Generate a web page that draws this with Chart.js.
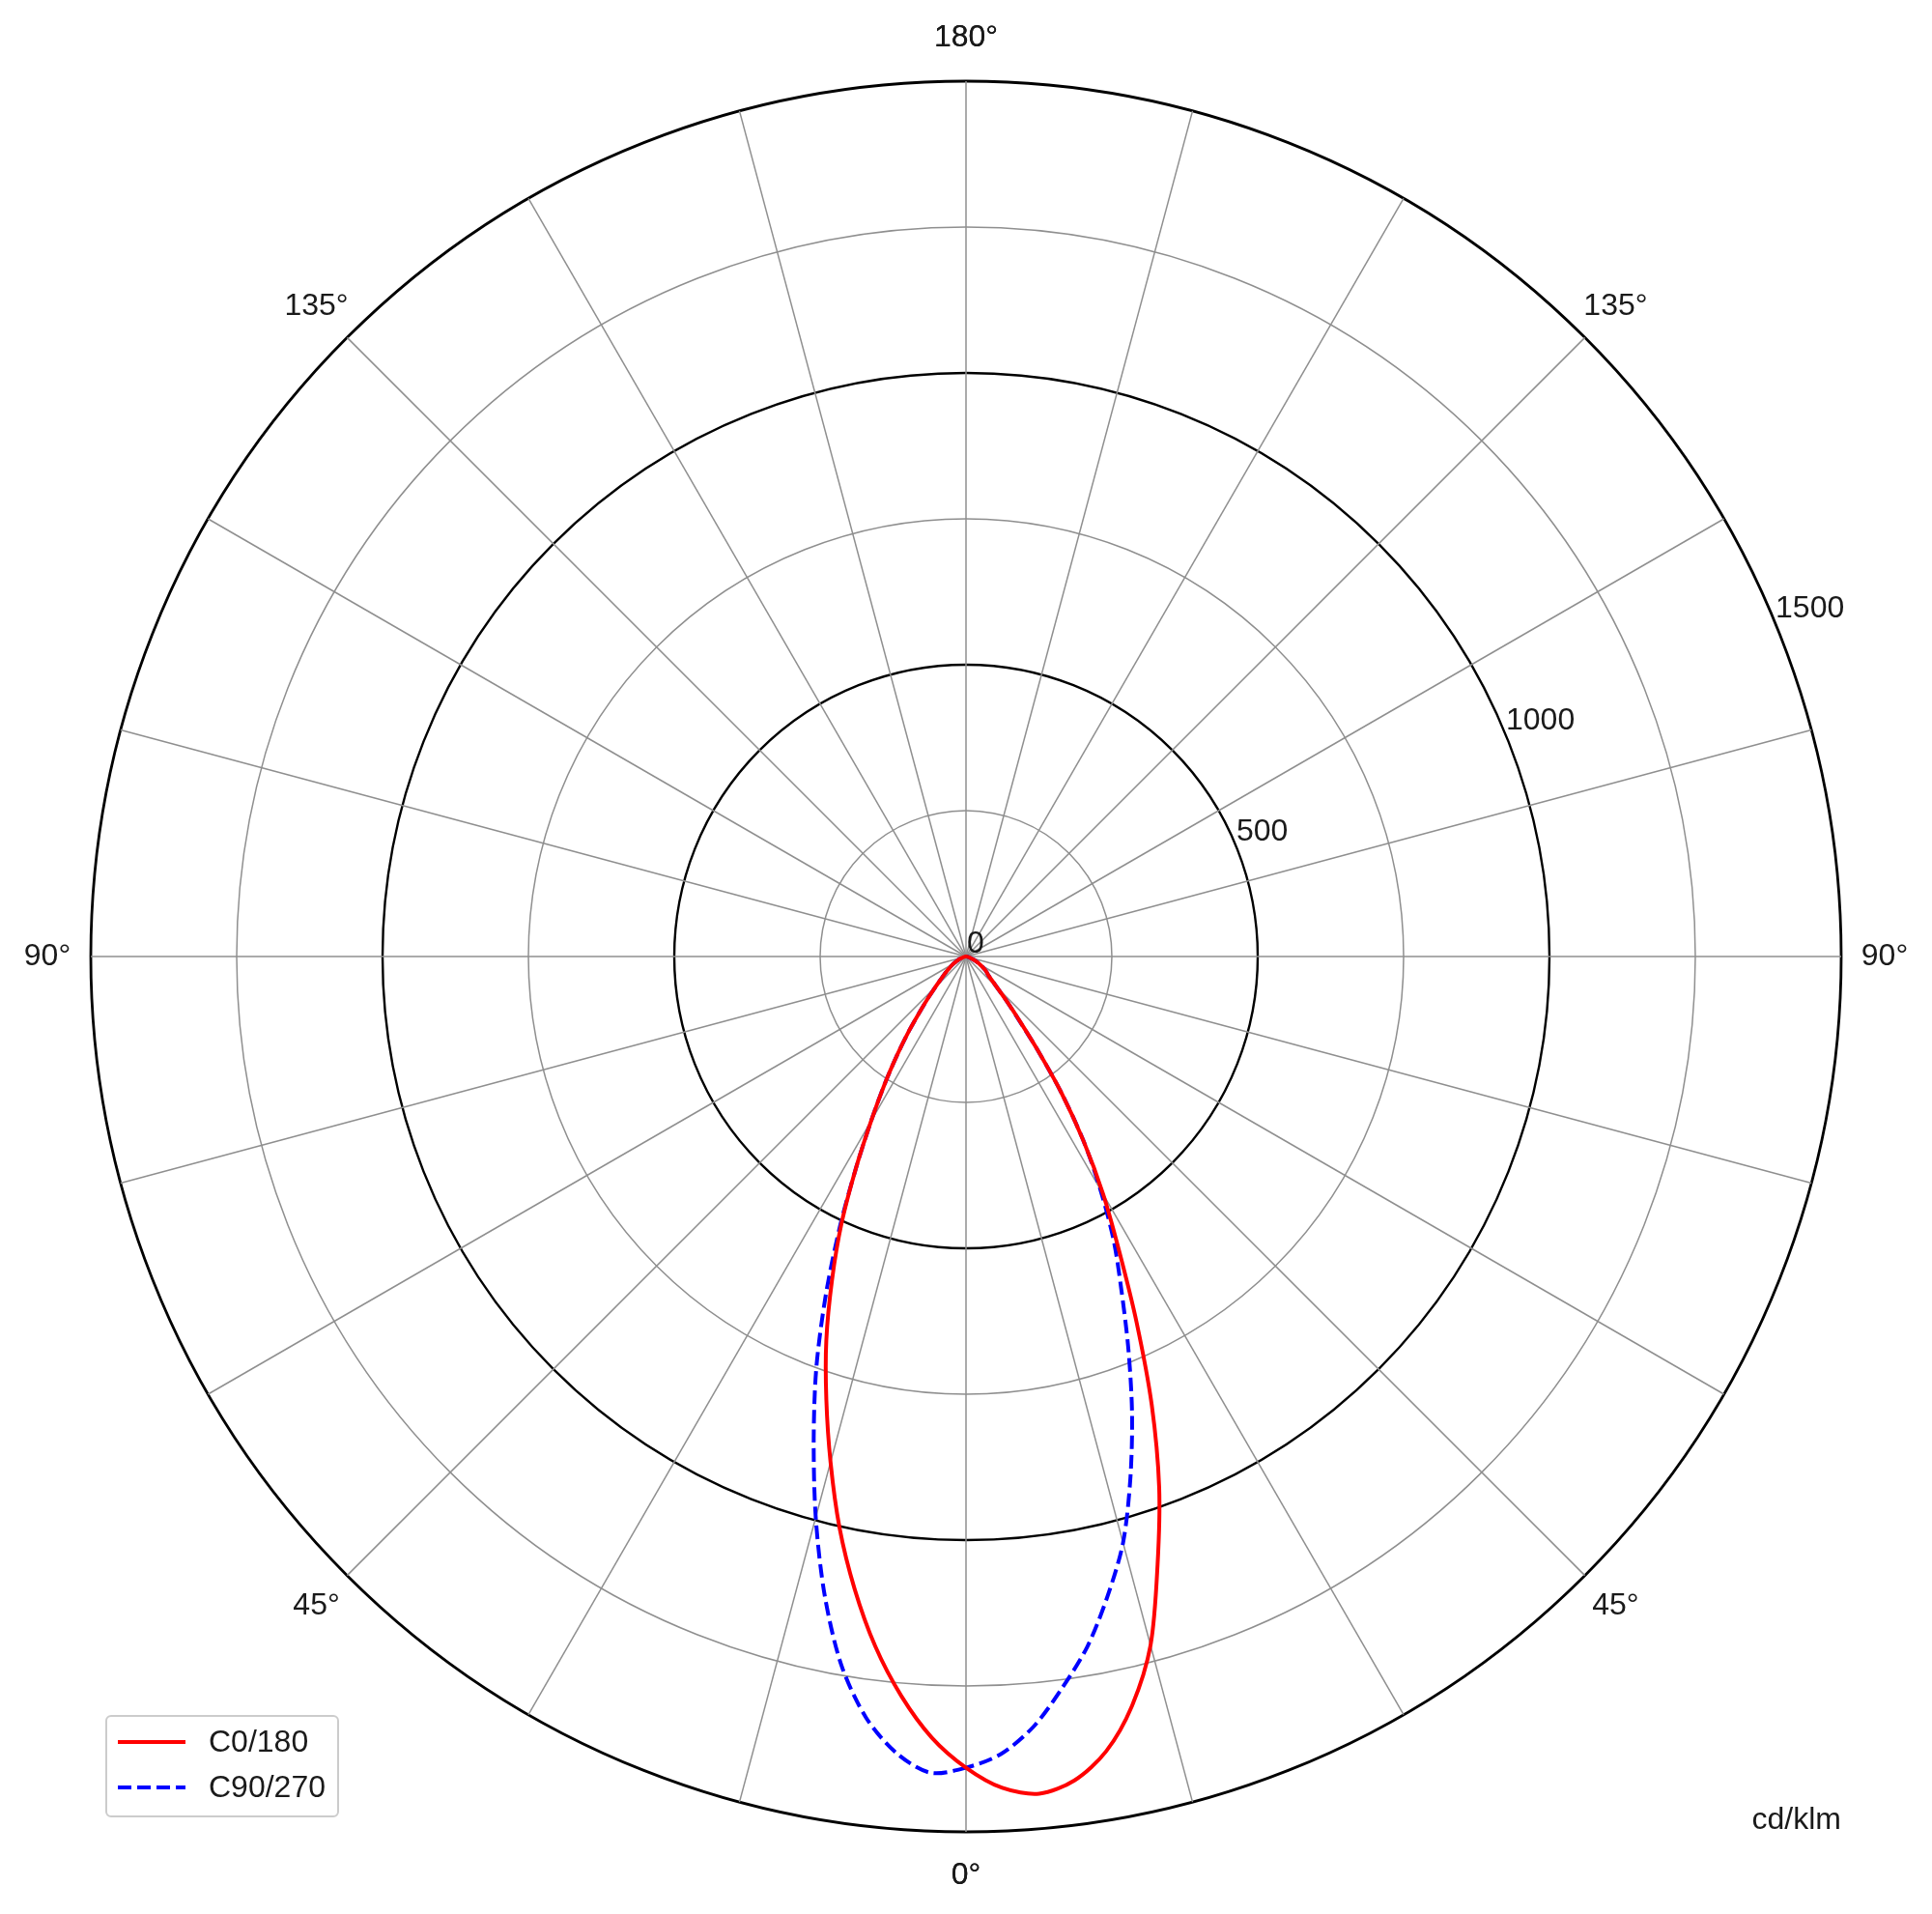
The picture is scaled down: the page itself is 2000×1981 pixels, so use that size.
<!DOCTYPE html>
<html>
<head>
<meta charset="utf-8">
<script src="https://cdn.jsdelivr.net/npm/chart.js@4/dist/chart.umd.min.js"></script>
<style>
  html, body { margin: 0; padding: 0; background: #ffffff; }
  #wrap { position: relative; width: 2000px; height: 1981px; }
</style>
</head>
<body>
<div id="wrap"><canvas id="chart"></canvas></div>
<script>
// ---- data (cd/klm), gamma 0..180 in 2.5 degree steps ----
const gammaAngles = [0,2.5,5,7.5,10,12.5,15,17.5,20,22.5,25,27.5,30,32.5,35,37.5,40,42.5,45,47.5,50,52.5,55,57.5,60,62.5,65,67.5,70,72.5,75,77.5,80,82.5,85,87.5,90,
  92.5,95,97.5,100,102.5,105,107.5,110,112.5,115,117.5,120,122.5,125,127.5,130,132.5,135,137.5,140,142.5,145,147.5,150,152.5,155,157.5,160,162.5,165,167.5,170,172.5,175,177.5,180];
const c0   = [1390,1426,1440,1424,1383,1315,1222,1092,968,832,692,568,470,375,285,200,140,102,76,60,50,45,40,34,28,23,18,14,10,8,6,4,3,2,1,0.5,0,
  0,0,0,0,0,0, 0,0,0,0,0,0, 0,0,0,0,0,0, 0,0,0,0,0,0, 0,0,0,0,0,0, 0,0,0,0,0,0];
const c180 = [1390,1340,1272,1192,1100,1002,897,796,700,600,505,408,325,260,205,160,122,95,75,60,50,42,35,30,25,20,16,13,10,7,5,4,3,2,1,0.5,0,
  0,0,0,0,0,0, 0,0,0,0,0,0, 0,0,0,0,0,0, 0,0,0,0,0,0, 0,0,0,0,0,0, 0,0,0,0,0,0];
const c90  = [1390,1368,1325,1264,1200,1122,1040,937,832,727,630,548,460,375,285,200,138,102,76,60,50,45,40,34,28,23,18,14,10,8,6,4,3,2,1,0.5,0,
  0,0,0,0,0,0, 0,0,0,0,0,0, 0,0,0,0,0,0, 0,0,0,0,0,0, 0,0,0,0,0,0, 0,0,0,0,0,0];
const c270 = [1390,1400,1370,1315,1232,1120,995,868,750,628,512,408,325,260,205,160,122,95,75,60,50,42,35,30,25,20,16,13,10,7,5,4,3,2,1,0.5,0,
  0,0,0,0,0,0, 0,0,0,0,0,0, 0,0,0,0,0,0, 0,0,0,0,0,0, 0,0,0,0,0,0, 0,0,0,0,0,0];
const seriesNames = ['C0/180', 'C90/270'];
const radialTickValues = [0, 500, 1000, 1500];
const angleLabelValues = [0, 45, 90, 135, 180];
const spokeEveryDeg = 15;
const unitLabel = 'cd/klm';

// ---- build full circle: left half (gamma 0 -> 180), then right half (gamma 177.5 -> 2.5) ----
const nHalf = gammaAngles.length;
const labels = gammaAngles.map(g => 'L' + g)
  .concat(gammaAngles.slice(1, nHalf - 1).reverse().map(g => 'R' + g));
function fullCircle(leftHalf, rightHalf) {
  return leftHalf.slice(0, nHalf).concat(rightHalf.slice(1, nHalf - 1).reverse());
}
const stepDeg = gammaAngles[1] - gammaAngles[0];
const nAll = labels.length;
const spokeEvery = Math.round(spokeEveryDeg / stepDeg);
function indexOf(gamma, side) {
  const k = Math.round(gamma / stepDeg);
  if (side === 'L' || k === 0 || gamma === 180) return k;
  return nAll - k;
}

const FONT = '"Liberation Sans", Arial, Helvetica, sans-serif';

const labelsPlugin = {
  id: 'polarLabels',
  afterDatasetsDraw(chart) {
    const s = chart.scales.r;
    const ctx = chart.ctx;
    ctx.save();
    ctx.fillStyle = '#1a1a1a';
    ctx.font = '32px ' + FONT;
    // radial tick labels along 22.5 deg
    const a = 22.5 * Math.PI / 180;
    ctx.textAlign = 'left';
    ctx.textBaseline = 'bottom';
    radialTickValues.forEach(v => {
      const d = s.getDistanceFromCenterForValue(v);
      ctx.fillText(String(v), s.xCenter + d * Math.cos(a) + 1, s.yCenter - d * Math.sin(a) + 3);
    });
    // angle labels
    ctx.textAlign = 'center';
    ctx.textBaseline = 'middle';
    angleLabelValues.forEach(g => {
      ['L', 'R'].forEach(side => {
        const p = s.getPointPosition(indexOf(g, side), s.drawingArea + 45);
        ctx.fillText(g + '°', p.x, p.y);
      });
    });
    // unit label
    ctx.textAlign = 'right';
    ctx.textBaseline = 'alphabetic';
    ctx.fillText(unitLabel, s.xCenter + s.drawingArea, s.yCenter + s.drawingArea - 3);
    ctx.restore();
  }
};

const legendPlugin = {
  id: 'boxLegend',
  afterDraw(chart) {
    const ctx = chart.ctx;
    const ds = chart.data.datasets;
    const x0 = 110, w = 240, rowH = 47, h = 104;
    const y0 = chart.height - 101 - h;
    ctx.save();
    ctx.beginPath();
    ctx.roundRect(x0, y0, w, h, 5);
    ctx.fillStyle = 'rgba(255,255,255,0.85)';
    ctx.fill();
    ctx.lineWidth = 2;
    ctx.strokeStyle = '#cccccc';
    ctx.stroke();
    ctx.font = '32px ' + FONT;
    ctx.textBaseline = 'middle';
    ctx.textAlign = 'left';
    ds.forEach((d, i) => {
      const y = y0 + 27 + i * rowH;
      ctx.beginPath();
      ctx.setLineDash(d.borderDash || []);
      ctx.strokeStyle = d.borderColor;
      ctx.lineWidth = d.borderWidth;
      ctx.moveTo(x0 + 12, y);
      ctx.lineTo(x0 + 82, y);
      ctx.stroke();
      ctx.setLineDash([]);
      ctx.fillStyle = '#1a1a1a';
      ctx.fillText(d.label, x0 + 106, y + 1);
    });
    ctx.restore();
  }
};

new Chart(document.getElementById('chart'), {
  type: 'radar',
  data: {
    labels: labels,
    datasets: [
      {
        label: seriesNames[0],
        data: fullCircle(c180, c0),
        borderColor: '#ff0000',
        borderWidth: 4,
        backgroundColor: 'rgba(0,0,0,0)',
        fill: false,
        pointRadius: 0,
        tension: 0.3
      },
      {
        label: seriesNames[1],
        data: fullCircle(c270, c90),
        borderColor: '#0000ff',
        borderWidth: 4,
        borderDash: [14, 6],
        backgroundColor: 'rgba(0,0,0,0)',
        fill: false,
        pointRadius: 0,
        tension: 0.3
      }
    ]
  },
  options: {
    responsive: true,
    maintainAspectRatio: false,
    devicePixelRatio: 1,
    animation: false,
    layout: { padding: { left: 94, right: 94, top: 84, bottom: 85 } },
    plugins: { legend: { display: false }, tooltip: { enabled: false } },
    scales: {
      r: {
        min: 0,
        max: 1500,
        startAngle: 180,
        ticks: { stepSize: 250, display: false },
        pointLabels: { display: false },
        grid: {
          circular: true,
          color: c => (c.tick && c.tick.value % 500 === 0) ? '#000000' : '#8f8f8f',
          lineWidth: c => (c.tick && c.tick.value === 1500) ? 2.8 : ((c.tick && c.tick.value % 500 === 0) ? 2.4 : 1.5)
        },
        angleLines: {
          display: true,
          color: c => (c.index % spokeEvery === 0) ? '#8f8f8f' : 'rgba(0,0,0,0)',
          lineWidth: c => (c.index % spokeEvery === 0) ? 1.5 : 0
        }
      }
    }
  },
  plugins: [labelsPlugin, legendPlugin]
});
</script>
</body>
</html>
